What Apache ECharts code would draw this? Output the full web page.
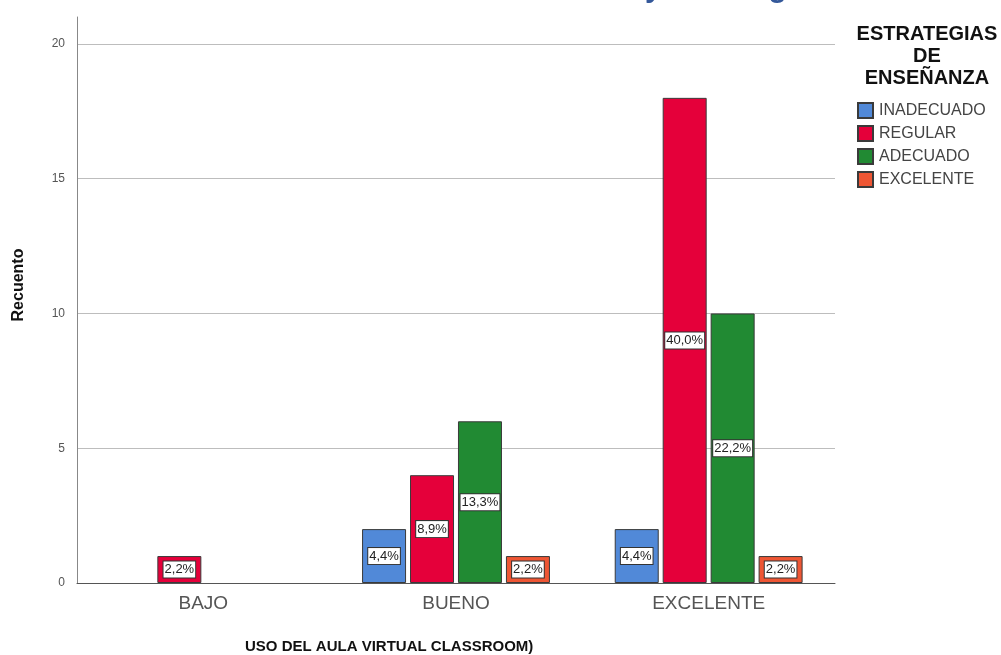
<!DOCTYPE html>
<html>
<head>
<meta charset="utf-8">
<script src="https://cdn.jsdelivr.net/npm/echarts@6/dist/echarts.min.js"></script>
<style>
html,body{margin:0;padding:0;background:#fff;}
#chart{width:1001px;height:655px;}
</style>
</head>
<body>
<div id="chart"></div>
<script>
var categories = ['BAJO', 'BUENO', 'EXCELENTE'];
var seriesNames = ['INADECUADO', 'REGULAR', 'ADECUADO', 'EXCELENTE'];
var inadecuado = [null, 2, 2];
var regular = [1, 4, 18];
var adecuado = [null, 6, 10];
var excelente = [null, 1, 1];
var inadecuadoPct = ['', '4,4%', '4,4%'];
var regularPct = ['2,2%', '8,9%', '40,0%'];
var adecuadoPct = ['', '13,3%', '22,2%'];
var excelentePct = ['', '2,2%', '2,2%'];
var yTicks = [0, 5, 10, 15, 20];

var colors = ['#5189d8', '#e5003a', '#218a33', '#ee5634'];
var values = [inadecuado, regular, adecuado, excelente];
var pcts = [inadecuadoPct, regularPct, adecuadoPct, excelentePct];
var FONT = '"Liberation Sans", Arial, sans-serif';

var chart = echarts.init(document.getElementById('chart'));

var series = seriesNames.map(function (name, i) {
  return {
    name: name,
    type: 'bar',
    barWidth: 44,
    barGap: '9%',
    data: values[i],
    itemStyle: { color: colors[i], borderColor: '#3a3a3a', borderWidth: 1 },
    label: {
      show: true,
      position: 'inside',
      formatter: function (p) { return pcts[i][p.dataIndex]; },
      color: '#222',
      fontFamily: FONT,
      fontSize: 13,
      backgroundColor: '#fff',
      borderColor: '#333',
      borderWidth: 1,
      padding: [2, 1, 1, 1]
    },
    emphasis: { disabled: true }
  };
});

chart.setOption({
  animation: false,
  backgroundColor: '#fff',
  title: [
    {
      text: 'y estrategias',
      left: 640,
      top: -31,
      textStyle: { color: '#34589a', fontSize: 30, fontWeight: 'bold', fontFamily: FONT }
    },
    {
      text: 'ESTRATEGIAS\nDE\nENSEÑANZA',
      left: 922,
      top: 18,
      textAlign: 'center',
      textStyle: { color: '#111', fontSize: 20, fontWeight: 'bold', fontFamily: FONT, lineHeight: 22 }
    },
    {
      text: 'USO DEL AULA VIRTUAL CLASSROOM)',
      left: 240,
      top: 634,
      textStyle: { color: '#111', fontSize: 15, fontWeight: 'bold', fontFamily: FONT }
    }
  ],
  legend: {
    orient: 'vertical',
    left: 852,
    top: 97,
    itemWidth: 15,
    itemHeight: 15,
    itemGap: 6,
    icon: 'rect',
    data: seriesNames,
    textStyle: { color: '#444', fontSize: 16, fontFamily: FONT, padding: [0, 0, 0, 1] },
    selectedMode: false
  },
  grid: { left: 77, right: 166, top: 17, bottom: 72 },
  xAxis: {
    type: 'category',
    data: categories,
    axisLine: { lineStyle: { color: '#555', width: 1 } },
    axisTick: { show: false },
    axisLabel: { color: '#555', fontSize: 19, fontFamily: FONT, margin: 11 }
  },
  yAxis: {
    type: 'value',
    min: 0,
    max: 21,
    interval: 5,
    name: 'Recuento',
    nameLocation: 'middle',
    nameGap: 50,
    nameTextStyle: { color: '#111', fontSize: 16, fontWeight: 'bold', fontFamily: FONT, padding: [0, 0, 0, 30] },
    axisLine: { show: true, lineStyle: { color: '#888' } },
    axisTick: { show: false },
    axisLabel: {
      color: '#555', fontSize: 12, fontFamily: FONT, margin: 12, showMaxLabel: false,
      formatter: function (v) { return yTicks.indexOf(v) >= 0 ? String(v) : ''; }
    },
    splitLine: { show: true, showMaxLine: false, lineStyle: { color: '#bdbdbd', width: 1 } }
  },
  series: series
});
</script>
</body>
</html>
